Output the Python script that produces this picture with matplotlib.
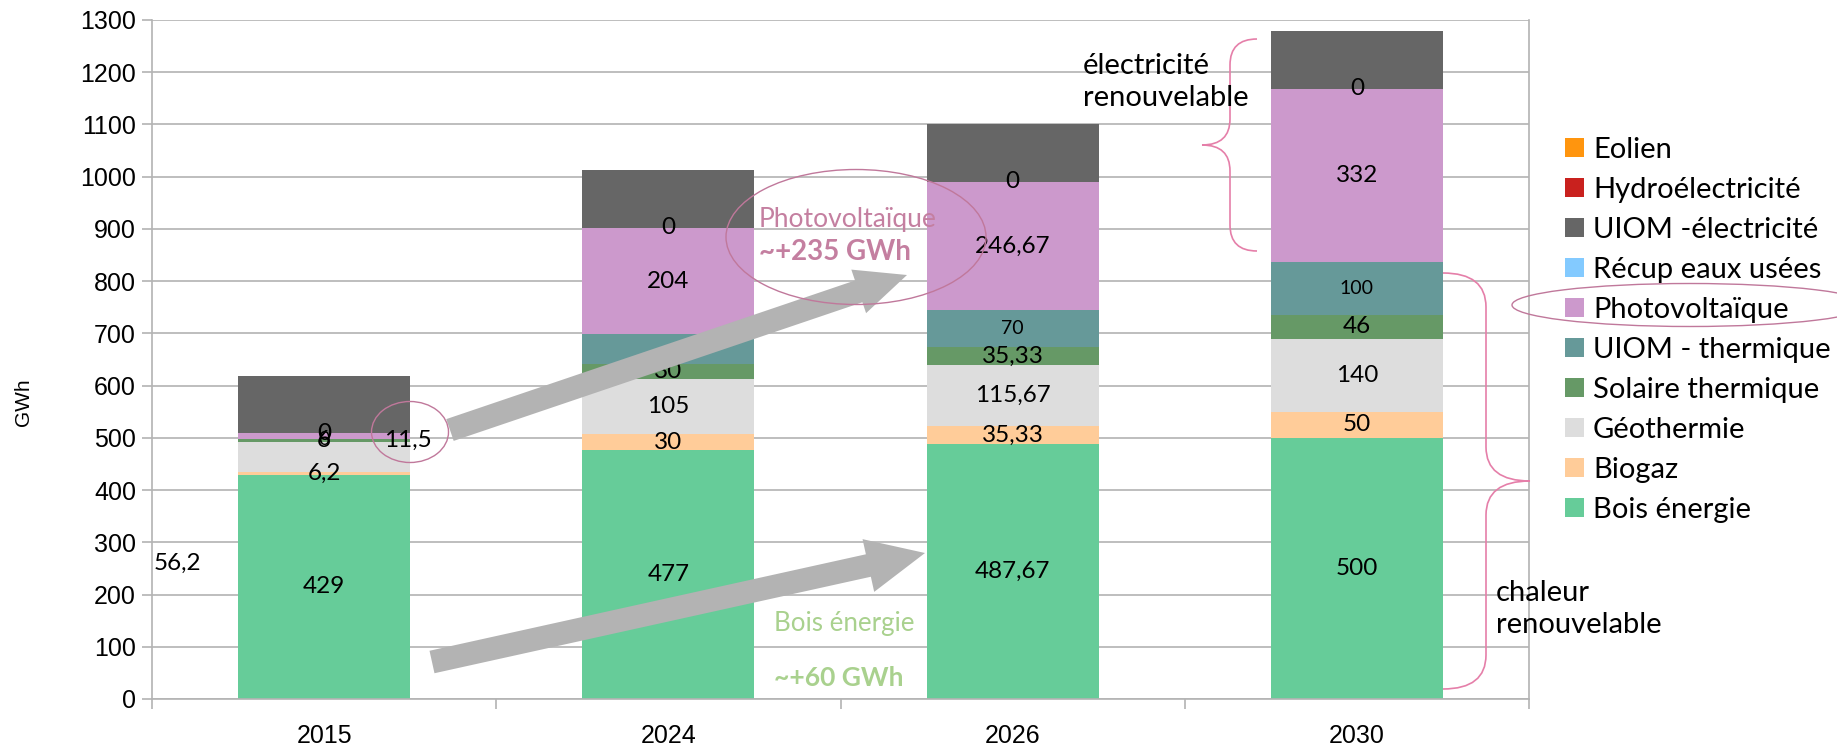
import matplotlib
matplotlib.use("Agg")
import matplotlib.pyplot as plt
from matplotlib.patches import Patch, FancyArrow, Ellipse, PathPatch
from matplotlib.path import Path
import numpy as np

# ---------------- data ----------------
years = ["2015", "2024", "2026", "2030"]
series_names = ["Bois énergie", "Biogaz", "Géothermie", "Solaire thermique",
                "UIOM - thermique", "Photovoltaïque", "Récup eaux usées",
                "UIOM -électricité", "Hydroélectricité", "Eolien"]
bois = [429, 477, 487.67, 500]
biogaz = [6.2, 30, 35.33, 50]
geothermie = [56.2, 105, 115.67, 140]
solaire_th = [6, 30, 35.33, 46]
uiom_th = [0, 56, 70, 100]
photovoltaique = [11.5, 204, 246.67, 332]
recup = [0, 0, 0, 0]
uiom_elec = [110, 110, 110, 110]
hydro = [0, 0, 0, 0]
eolien = [0, 0, 0, 0]
values = [bois, biogaz, geothermie, solaire_th, uiom_th, photovoltaique,
          recup, uiom_elec, hydro, eolien]
colors = ["#66cc99", "#ffcc99", "#dddddd", "#669966", "#669999", "#cc99cc",
          "#83caff", "#666666", "#c9211e", "#ff950e"]
labelled = [True, True, True, True, True, True, True, False, False, False]
yticks = list(range(0, 1301, 100))

W, H = 1837, 745
fig = plt.figure(figsize=(W / 100, H / 100), dpi=100)
L, R, T, B = 152, 1529, 20, 699
ax = fig.add_axes([L / W, 1 - B / H, (R - L) / W, (B - T) / H])

FONT = ["Lato", "DejaVu Sans"]
TICKFONT = ["Liberation Sans", "DejaVu Sans"]
GRID = "#b3b3b3"

x = np.arange(len(years))
bottom = np.zeros(len(years))
label_offsets = {(2, 0): (-147, -106), (5, 0): (84, -4), (4, 1): (0, -8)}
small_label = {4: 14}


def fmt(v):
    if abs(v - round(v)) < 1e-9:
        return str(int(round(v)))
    s = ("%.2f" % v).rstrip("0").rstrip(".")
    return s.replace(".", ",")


for si, (name, vals, col) in enumerate(zip(series_names, values, colors)):
    vals = np.array(vals, dtype=float)
    ax.bar(x, vals, 0.5, bottom=bottom, color=col, label=name, zorder=2,
           linewidth=0)
    if labelled[si]:
        for i in range(len(years)):
            cy = bottom[i] + vals[i] / 2
            off = label_offsets.get((si, i), (0, 0))
            ax.annotate(fmt(vals[i]), (x[i], cy), xytext=off,
                        textcoords="offset pixels", ha="center", va="center",
                        fontsize=small_label.get(si, 17.5), family=FONT,
                        color="black", zorder=3)
    bottom += vals

ax.set_xlim(-0.5, 3.5)
ax.set_ylim(0, 1300)
ax.set_yticks(yticks)
ax.set_xticks(x)
ax.set_xticklabels(years)
ax.set_xticks(np.arange(-0.5, 3.6, 1.0), minor=True)
ax.tick_params(axis="x", which="major", length=0, pad=18, labelsize=18,
               labelcolor="black")
ax.tick_params(axis="x", which="minor", length=7.5, width=1.2, color=GRID,
               direction="out")
ax.tick_params(axis="y", length=7.5, width=1.2, color=GRID, direction="out",
               labelsize=18, pad=4)
for lab in ax.get_xticklabels() + ax.get_yticklabels():
    lab.set_family(TICKFONT)
ax.yaxis.grid(True, color=GRID, linewidth=1.2, zorder=0)
ax.set_axisbelow(True)
for s in ["left", "bottom", "right"]:
    ax.spines[s].set_color(GRID)
    ax.spines[s].set_linewidth(1.2)
ax.spines["top"].set_visible(False)

fig.text(24 / W, 1 - 402 / H, "GWh", rotation=90, ha="center", va="center",
         fontsize=15, family=["Liberation Sans Narrow", "Liberation Sans"])

# legend (top to bottom: reversed stacking order)
handles = [Patch(facecolor=c, edgecolor="none") for c in colors][::-1]
names = series_names[::-1]
leg = fig.legend(handles, names, loc="upper left",
                 bbox_to_anchor=(1565 / W, 1 - 137 / H), frameon=False,
                 prop={"family": FONT, "size": 21}, handlelength=0.65,
                 handleheight=0.65, handletextpad=0.31, labelspacing=0.48,
                 borderpad=0, borderaxespad=0)

# ---------------- overlay annotations (pixel coordinates) ----------------
ov = fig.add_axes([0, 0, 1, 1], zorder=5)
ov.set_xlim(0, W)
ov.set_ylim(H, 0)
ov.axis("off")
ov.patch.set_alpha(0)

ARROW = "#b3b3b3"
for (tx, ty), (hx, hy), wd, hw, hl in [((450, 430), (907, 275), 23, 46, 51),
                                       ((432, 662), (925, 553), 23, 54, 58)]:
    ov.add_patch(FancyArrow(tx, ty, hx - tx, hy - ty, width=wd, head_width=hw,
                            head_length=hl, length_includes_head=True,
                            color=ARROW, linewidth=0))

ELL = "#c0789b"
for cx, cy, ew, eh in [(410, 432, 77, 61), (856, 237, 260, 135),
                       (1690, 305, 356, 43)]:
    ov.add_patch(Ellipse((cx, cy), ew, eh, fill=False, edgecolor=ELL,
                         linewidth=1.0))

BRACE = "#e57fa9"


def brace(x_end, x_spine, x_tip, y0, y1, r):
    ym = (y0 + y1) / 2
    verts = [(x_end, y0), (x_spine, y0), (x_spine, y0 + r),
             (x_spine, ym - r), (x_spine, ym), (x_tip, ym),
             (x_spine, ym), (x_spine, ym + r),
             (x_spine, y1 - r), (x_spine, y1), (x_end, y1)]
    codes = [Path.MOVETO, Path.CURVE3, Path.CURVE3,
             Path.LINETO, Path.CURVE3, Path.CURVE3,
             Path.CURVE3, Path.CURVE3,
             Path.LINETO, Path.CURVE3, Path.CURVE3]
    ov.add_patch(PathPatch(Path(verts, codes), fill=False, edgecolor=BRACE,
                           linewidth=1.2))


brace(1257, 1230, 1202, 39, 251, 26)
brace(1443, 1486, 1530, 273, 689, 34)

ov.text(1083, 66, "électricité", ha="left", va="center", fontsize=21,
        family=FONT, color="black")
ov.text(1083, 98, "renouvelable", ha="left", va="center", fontsize=21,
        family=FONT, color="black")
ov.text(1496, 593, "chaleur", ha="left", va="center", fontsize=21,
        family=FONT, color="black")
ov.text(1496, 625, "renouvelable", ha="left", va="center", fontsize=21,
        family=FONT, color="black")

PV = "#c47fa0"
GR = "#a9d18e"
ov.text(759, 219, "Photovoltaïque", ha="left", va="center", fontsize=19,
        family=FONT, color=PV)
ov.text(759, 252, "~+235 GWh", ha="left", va="center", fontsize=20,
        family=FONT, color=PV, fontweight="bold")
ov.text(774, 624, "Bois énergie", ha="left", va="center", fontsize=18.6,
        family=FONT, color=GR)
ov.text(774, 678, "~+60 GWh", ha="left", va="center", fontsize=19,
        family=FONT, color=GR, fontweight="bold")

fig.savefig("out.png", dpi=100)
